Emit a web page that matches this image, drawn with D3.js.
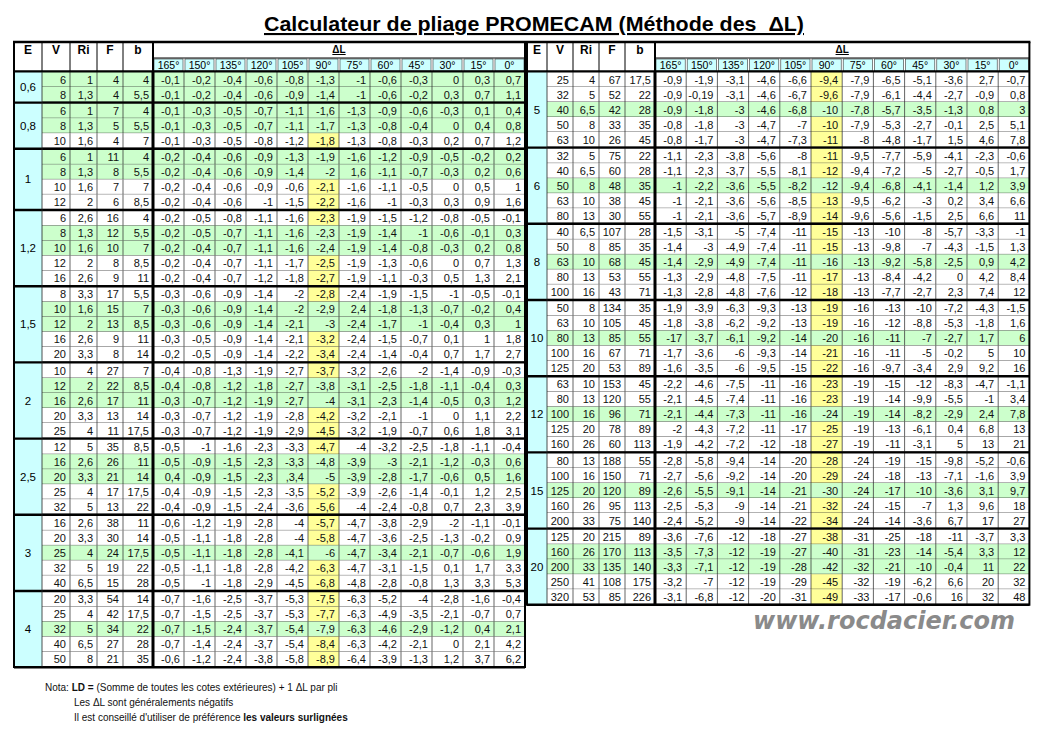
<!DOCTYPE html>
<html><head><meta charset="utf-8">
<script src="https://cdn.jsdelivr.net/npm/d3@7/dist/d3.min.js"></script>
<style>body{margin:0;background:#fff}svg{display:block}</style>
</head><body><svg id="c" width="1064" height="732"></svg>
<script>
const angles = ["165°","150°","135°","120°","105°","90°","75°","60°","45°","30°","15°","0°"];
const idHeaders = ["E","V","Ri","F","b"];

const leftE = ["0,6","0,8","1","1,2","1,5","2","2,5","3","4"];
const leftGroupSize = [2,3,4,5,5,5,5,5,5];
const leftGreen = [0,1,2,3,5,6,10,11,15,16,20,21,25,26,31,36];
const leftV  = [6,8, 6,8,10, 6,8,10,12, 6,8,10,12,16, 8,10,12,16,20, 10,12,16,20,25, 12,16,20,25,32, 16,20,25,32,40, 20,25,32,40,50];
const leftRi = [1,1.3, 1,1.3,1.6, 1,1.3,1.6,2, 2.6,1.3,1.6,2,2.6, 3.3,1.6,2,2.6,3.3, 4,2,2.6,3.3,4, 5,2.6,3.3,4,5, 2.6,3.3,4,5,6.5, 3.3,4,5,6.5,8];
const leftF  = [4,4, 7,5,4, 11,8,7,6, 16,12,10,8,9, 17,15,13,9,8, 27,22,17,13,11, 35,26,21,17,13, 38,30,24,19,15, 54,42,34,27,21];
const leftB  = [4,5.5, 4,5.5,7, 4,5.5,7,8.5, 4,5.5,7,8.5,11, 5.5,7,8.5,11,14, 7,8.5,11,14,17.5, 8.5,11,14,17.5,22, 11,14,17.5,22,28, 14,17.5,22,28,35];
const leftDelta = [
"-0,1 -0,2 -0,4 -0,6 -0,8 -1,3 -1 -0,6 -0,3 0 0,3 0,7",
"-0,1 -0,2 -0,4 -0,6 -0,9 -1,4 -1 -0,6 -0,2 0,3 0,7 1,1",
"-0,1 -0,3 -0,5 -0,7 -1,1 -1,6 -1,3 -0,9 -0,6 -0,3 0,1 0,4",
"-0,1 -0,3 -0,5 -0,7 -1,1 -1,7 -1,3 -0,8 -0,4 0 0,4 0,8",
"-0,1 -0,3 -0,5 -0,8 -1,2 -1,8 -1,3 -0,8 -0,3 0,2 0,7 1,2",
"-0,2 -0,4 -0,6 -0,9 -1,3 -1,9 -1,6 -1,2 -0,9 -0,5 -0,2 0,2",
"-0,2 -0,4 -0,6 -0,9 -1,4 -2 1,6 -1,1 -0,7 -0,3 0,2 0,6",
"-0,2 -0,4 -0,6 -0,9 -0,6 -2,1 -1,6 -1,1 -0,5 0 0,5 1",
"-0,2 -0,4 -0,6 -1 -1,5 -2,2 -1,6 -1 -0,3 0,3 0,9 1,6",
"-0,2 -0,5 -0,8 -1,1 -1,6 -2,3 -1,9 -1,5 -1,2 -0,8 -0,5 -0,1",
"-0,2 -0,5 -0,7 -1,1 -1,6 -2,3 -1,9 -1,4 -1 -0,6 -0,1 0,3",
"-0,2 -0,4 -0,7 -1,1 -1,6 -2,4 -1,9 -1,4 -0,8 -0,3 0,2 0,8",
"-0,2 -0,4 -0,7 -1,1 -1,7 -2,5 -1,9 -1,3 -0,6 0 0,7 1,3",
"-0,2 -0,4 -0,7 -1,2 -1,8 -2,7 -1,9 -1,1 -0,3 0,5 1,3 2,1",
"-0,3 -0,6 -0,9 -1,4 -2 -2,8 -2,4 -1,9 -1,5 -1 -0,5 -0,1",
"-0,3 -0,6 -0,9 -1,4 -2 -2,9 2,4 -1,8 -1,3 -0,7 -0,2 0,4",
"-0,3 -0,6 -0,9 -1,4 -2,1 -3 -2,4 -1,7 -1 -0,4 0,3 1",
"-0,3 -0,5 -0,9 -1,4 -2,1 -3,2 -2,4 -1,5 -0,7 0,1 1 1,8",
"-0,2 -0,5 -0,9 -1,4 -2,2 -3,4 -2,4 -1,4 -0,4 0,7 1,7 2,7",
"-0,4 -0,8 -1,3 -1,9 -2,7 -3,7 -3,2 -2,6 -2 -1,4 -0,9 -0,3",
"-0,4 -0,8 -1,2 -1,8 -2,7 -3,8 -3,1 -2,5 -1,8 -1,1 -0,4 0,3",
"-0,3 -0,7 -1,2 -1,9 -2,7 -4 -3,1 -2,3 -1,4 -0,5 0,3 1,2",
"-0,3 -0,7 -1,2 -1,9 -2,8 -4,2 -3,2 -2,1 -1 0 1,1 2,2",
"-0,3 -0,7 -1,2 -1,9 -2,9 -4,5 -3,2 -1,9 -0,7 0,6 1,8 3,1",
"-0,5 -1 -1,6 -2,3 -3,3 -4,7 -4 -3,2 -2,5 -1,8 -1,1 -0,4",
"-0,5 -0,9 -1,5 -2,3 -3,3 -4,8 -3,9 -3 -2,1 -1,2 -0,3 0,6",
"0,4 -0,9 -1,5 -2,3 ,3,4 -5 -3,9 -2,8 -1,7 -0,6 0,5 1,6",
"-0,4 -0,9 -1,5 -2,3 -3,5 -5,2 -3,9 -2,6 -1,4 -0,1 1,2 2,5",
"-0,4 -0,9 -1,5 -2,4 -3,6 -5,6 -4 -2,4 -0,8 0,7 2,3 3,9",
"-0,6 -1,2 -1,9 -2,8 -4 -5,7 -4,7 -3,8 -2,9 -2 -1,1 -0,1",
"-0,5 -1,1 -1,8 -2,8 -4 -5,8 -4,7 -3,6 -2,5 -1,3 -0,2 0,9",
"-0,5 -1,1 -1,8 -2,8 -4,1 -6 -4,7 -3,4 -2,1 -0,7 -0,6 1,9",
"-0,5 -1,1 -1,8 -2,8 -4,2 -6,3 -4,7 -3,1 -1,5 0,1 1,7 3,3",
"-0,5 -1 -1,8 -2,9 -4,5 -6,8 -4,8 -2,8 -0,8 1,3 3,3 5,3",
"-0,7 -1,6 -2,5 -3,7 -5,3 -7,5 -6,3 -5,2 -4 -2,8 -1,6 -0,4",
"-0,7 -1,5 -2,5 -3,7 -5,3 -7,7 -6,3 -4,9 -3,5 -2,1 -0,7 0,7",
"-0,7 -1,5 -2,4 -3,7 -5,4 -7,9 -6,3 -4,6 -2,9 -1,2 0,4 2,1",
"-0,7 -1,4 -2,4 -3,7 -5,4 -8,4 -6,3 -4,2 -2,1 0 2,1 4,2",
"-0,6 -1,2 -2,4 -3,8 -5,8 -8,9 -6,4 -3,9 -1,3 1,2 3,7 6,2"];

const rightE = ["5","6","8","10","12","15","20"];
const rightGroupSize = [5,5,5,5,5,5,5];
const rightGreen = [2,7,12,17,22,27,31,32];
const rightV  = [25,32,40,50,63, 32,40,50,63,80, 40,50,63,80,100, 50,63,80,100,125, 63,80,100,125,160, 80,100,125,160,200, 125,160,200,250,320];
const rightRi = [4,5,6.5,8,10, 5,6.5,8,10,13, 6.5,8,10,13,16, 8,10,13,16,20, 10,13,16,20,26, 13,16,20,26,33, 20,26,33,41,53];
const rightF  = [67,52,42,33,26, 75,60,48,38,30, 107,85,68,53,43, 134,105,85,67,53, 153,120,96,78,60, 188,150,120,95,75, 215,170,135,108,85];
const rightB  = [17.5,22,28,35,45, 22,28,35,45,55, 28,35,45,55,71, 35,45,55,71,89, 45,55,71,89,113, 55,71,89,113,140, 89,113,140,175,226];
const rightDelta = [
"-0,9 -1,9 -3,1 -4,6 -6,6 -9,4 -7,9 -6,5 -5,1 -3,6 2,7 -0,7",
"-0,9 -0,19 -3,1 -4,6 -6,7 -9,6 -7,9 -6,1 -4,4 -2,7 -0,9 0,8",
"-0,9 -1,8 -3 -4,6 -6,8 -10 -7,8 -5,7 -3,5 -1,3 0,8 3",
"-0,8 -1,8 -3 -4,7 -7 -10 -7,9 -5,3 -2,7 -0,1 2,5 5,1",
"-0,8 -1,7 -3 -4,7 -7,3 -11 -8 -4,8 -1,7 1,5 4,6 7,8",
"-1,1 -2,3 -3,8 -5,6 -8 -11 -9,5 -7,7 -5,9 -4,1 -2,3 -0,6",
"-1,1 -2,3 -3,7 -5,5 -8,1 -12 -9,4 -7,2 -5 -2,7 -0,5 1,7",
"-1 -2,2 -3,6 -5,5 -8,2 -12 -9,4 -6,8 -4,1 -1,4 1,2 3,9",
"-1 -2,1 -3,6 -5,6 -8,5 -13 -9,5 -6,2 -3 0,2 3,4 6,6",
"-1 -2,1 -3,6 -5,7 -8,9 -14 -9,6 -5,6 -1,5 2,5 6,6 11",
"-1,5 -3,1 -5 -7,4 -11 -15 -13 -10 -8 -5,7 -3,3 -1",
"-1,4 -3 -4,9 -7,4 -11 -15 -13 -9,8 -7 -4,3 -1,5 1,3",
"-1,4 -2,9 -4,9 -7,4 -11 -16 -13 -9,2 -5,8 -2,5 0,9 4,2",
"-1,3 -2,9 -4,8 -7,5 -11 -17 -13 -8,4 -4,2 0 4,2 8,4",
"-1,3 -2,8 -4,8 -7,6 -12 -18 -13 -7,7 -2,7 2,3 7,4 12",
"-1,9 -3,9 -6,3 -9,3 -13 -19 -16 -13 -10 -7,2 -4,3 -1,5",
"-1,8 -3,8 -6,2 -9,2 -13 -19 -16 -12 -8,8 -5,3 -1,8 1,6",
"-17 -3,7 -6,1 -9,2 -14 -20 -16 -11 -7 -2,7 1,7 6",
"-1,7 -3,6 -6 -9,3 -14 -21 -16 -11 -5 -0,2 5 10",
"-1,6 -3,5 -6 -9,5 -15 -22 -16 -9,7 -3,4 2,9 9,2 16",
"-2,2 -4,6 -7,5 -11 -16 -23 -19 -15 -12 -8,3 -4,7 -1,1",
"-2,1 -4,5 -7,4 -11 -16 -23 -19 -14 -9,9 -5,5 -1 3,4",
"-2,1 -4,4 -7,3 -11 -16 -24 -19 -14 -8,2 -2,9 2,4 7,8",
"-2 -4,3 -7,2 -11 -17 -25 -19 -13 -6,1 0,4 6,8 13",
"-1,9 -4,2 -7,2 -12 -18 -27 -19 -11 -3,1 5 13 21",
"-2,8 -5,8 -9,4 -14 -20 -28 -24 -19 -15 -9,8 -5,2 -0,6",
"-2,7 -5,6 -9,2 -14 -20 -29 -24 -18 -13 -7,1 -1,6 3,9",
"-2,6 -5,5 -9,1 -14 -21 -30 -24 -17 -10 -3,6 3,1 9,7",
"-2,5 -5,3 -9 -14 -21 -32 -24 -15 -7 1,3 9,6 18",
"-2,4 -5,2 -9 -14 -22 -34 -24 -14 -3,6 6,7 17 27",
"-3,6 -7,6 -12 -18 -27 -38 -31 -25 -18 -11 -3,7 3,3",
"-3,5 -7,3 -12 -19 -27 -40 -31 -23 -14 -5,4 3,3 12",
"-3,3 -7,1 -12 -19 -28 -42 -32 -21 -10 -0,4 11 22",
"-3,2 -7 -12 -19 -29 -45 -32 -19 -6,2 6,6 20 32",
"-3,1 -6,8 -12 -20 -31 -49 -33 -17 -0,6 16 32 48"];

const FONT = "'Liberation Sans Narrow','Arial Narrow','Liberation Sans',Arial,sans-serif";
const GREEN="#ccffcc", YELLOW="#ffff99", CYAN="#ccffff";
const svg = d3.select("#c");
const fmt = v => String(v).replace(".", ",");

svg.append("text").attr("x",534).attr("y",31).attr("text-anchor","middle")
  .attr("font-family",FONT).attr("font-weight","bold").attr("font-size",21)
  .attr("text-decoration","underline").attr("textLength",540).attr("lengthAdjust","spacingAndGlyphs")
  .text("Calculateur de pliage PROMECAM (Méthode des\u00a0 ΔL)");

function drawTable(cfg){
  const {x0, idW, deltaW, E, sizes, green, V, Ri, F, B, delta} = cfg;
  const nRows = V.length;
  const widths = idW.concat(d3.range(12).map(()=>deltaW));
  const xs = [x0]; widths.forEach(w=>xs.push(xs[xs.length-1]+w));
  const xEnd = xs[xs.length-1];
  const groupOf = []; sizes.forEach((s,g)=>{for(let k=0;k<s;k++) groupOf.push(g);});
  const rowY = d3.scaleLinear().domain([0,1]).range([72,87]);
  const yOf = i => rowY(i) + groupOf[i]*1.2;
  const yEndOf = i => yOf(i)+15;
  const g = svg.append("g").attr("font-family",FONT);
  const greenSet = new Set(green);

  const hY0=42, hY1=58, hY2=72;
  idHeaders.forEach((h,k)=>{
    g.append("text").attr("x",(xs[k]+xs[k+1])/2).attr("y",54).attr("text-anchor","middle")
     .attr("font-weight","bold").attr("font-size",12).text(h);
  });
  g.append("text").attr("x",(xs[5]+xEnd)/2).attr("y",53).attr("text-anchor","middle")
   .attr("font-weight","bold").attr("font-size",10).attr("text-decoration","underline").text("ΔL");
  angles.forEach((a,k)=>{
    g.append("rect").attr("x",xs[5+k]+1).attr("y",hY1+1).attr("width",widths[5+k]-2).attr("height",hY2-hY1-2)
     .attr("fill",CYAN).attr("stroke","#333").attr("stroke-width",0.6);
    g.append("text").attr("x",(xs[5+k]+xs[6+k])/2).attr("y",69).attr("text-anchor","middle")
     .attr("font-size",10.5).text(a);
  });
  for(let k=0;k<=5;k++) g.append("line").attr("x1",xs[k]).attr("x2",xs[k]).attr("y1",hY0).attr("y2",hY2).attr("stroke","#000").attr("stroke-width",k===0||k===5?2:1);
  g.append("line").attr("x1",xs[5]).attr("x2",xEnd).attr("y1",hY1).attr("y2",hY1).attr("stroke","#000").attr("stroke-width",1);

  const lastY = yEndOf(nRows-1);
  for(let i=0;i<nRows;i++){
    const y=yOf(i), hgt=15, isG=greenSet.has(i);
    const vals = [fmt(V[i]),fmt(Ri[i]),fmt(F[i]),fmt(B[i])].concat(delta[i].split(" "));
    vals.forEach((v,k)=>{
      const c=k+1;
      let fill = isG ? GREEN : "#fff";
      if(!isG && c===10) fill = YELLOW;
      g.append("rect").attr("x",xs[c]).attr("y",y).attr("width",widths[c]).attr("height",hgt).attr("fill",fill);
      g.append("text").attr("x",xs[c+1]-4).attr("y",y+11.5).attr("text-anchor","end").attr("font-size",11).attr("fill","#111").text(v);
    });
    g.append("line").attr("x1",xs[1]).attr("x2",xEnd).attr("y1",y+hgt).attr("y2",y+hgt).attr("stroke","#222").attr("stroke-width",0.7);
    for(let c=2;c<xs.length-1;c++){
      if(c===5) continue;
      g.append("line").attr("x1",xs[c]).attr("x2",xs[c]).attr("y1",y).attr("y2",y+hgt).attr("stroke","#222").attr("stroke-width",0.7);
    }
  }
  let start=0;
  sizes.forEach((s,gi)=>{
    const y0=yOf(start), y1=yEndOf(start+s-1);
    g.append("rect").attr("x",xs[0]).attr("y",y0).attr("width",widths[0]).attr("height",y1-y0).attr("fill",CYAN);
    g.append("text").attr("x",(xs[0]+xs[1])/2).attr("y",(y0+y1)/2+4).attr("text-anchor","middle").attr("font-size",11.5).text(E[gi]);
    g.append("line").attr("x1",xs[0]).attr("x2",xEnd).attr("y1",y0-0.6).attr("y2",y0-0.6).attr("stroke","#000").attr("stroke-width",2.4);
    start+=s;
  });
  g.append("line").attr("x1",xs[0]).attr("x2",xEnd).attr("y1",lastY+0.6).attr("y2",lastY+0.6).attr("stroke","#000").attr("stroke-width",2.4);
  g.append("line").attr("x1",xs[1]).attr("x2",xs[1]).attr("y1",72).attr("y2",lastY).attr("stroke","#222").attr("stroke-width",0.8);
  g.append("line").attr("x1",xs[5]).attr("x2",xs[5]).attr("y1",72).attr("y2",lastY).attr("stroke","#000").attr("stroke-width",3);
  g.append("line").attr("x1",xs[0]).attr("x2",xs[0]).attr("y1",hY0).attr("y2",lastY+1.5).attr("stroke","#000").attr("stroke-width",2);
  g.append("line").attr("x1",xEnd).attr("x2",xEnd).attr("y1",hY0).attr("y2",lastY+1.5).attr("stroke","#000").attr("stroke-width",2);
  g.append("line").attr("x1",xs[0]-1).attr("x2",xEnd+1).attr("y1",hY0).attr("y2",hY0).attr("stroke","#000").attr("stroke-width",2.4);
}

drawTable({x0:14, idW:[28,28,27,26,30], deltaW:31, E:leftE, sizes:leftGroupSize, green:leftGreen,
  V:leftV, Ri:leftRi, F:leftF, B:leftB, delta:leftDelta});
drawTable({x0:527, idW:[20,26,26,26,30], deltaW:31.2, E:rightE, sizes:rightGroupSize, green:rightGreen,
  V:rightV, Ri:rightRi, F:rightF, B:rightB, delta:rightDelta});

svg.append("text").attr("x",753).attr("y",629).attr("font-family","'DejaVu Sans',sans-serif")
  .attr("font-style","italic").attr("font-weight","bold").attr("font-size",25).attr("fill","#8a8a8a")
  .attr("textLength",262).attr("lengthAdjust","spacingAndGlyphs").text("www.rocdacier.com");

const foot = svg.append("g").attr("font-family",FONT).attr("font-size",10).attr("fill","#111");
const t1 = foot.append("text").attr("x",45).attr("y",691);
t1.append("tspan").text("Nota: ");
t1.append("tspan").attr("font-weight","bold").text("LD =");
t1.append("tspan").text(" (Somme de toutes les cotes extérieures) + 1 ΔL par pli");
foot.append("text").attr("x",74).attr("y",706).text("Les ΔL sont généralements négatifs");
const t3 = foot.append("text").attr("x",74).attr("y",721);
t3.append("tspan").text("Il est conseillé d'utiliser de préférence ");
t3.append("tspan").attr("font-weight","bold").text("les valeurs surlignées");
</script></body></html>
